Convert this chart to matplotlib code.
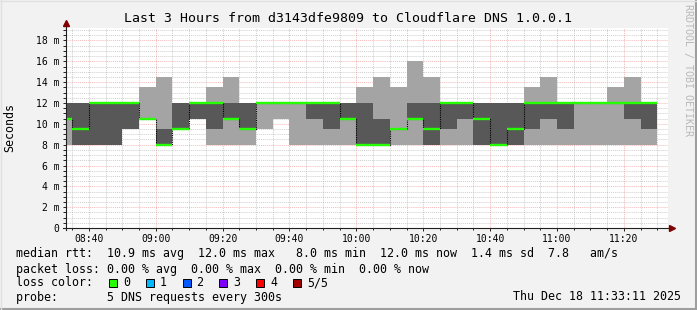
import numpy as np
import pandas as pd
import matplotlib
matplotlib.use("Agg")
import matplotlib.pyplot as plt
import matplotlib.dates as mdates
from matplotlib.ticker import MultipleLocator, FuncFormatter
from matplotlib.patches import Rectangle

plt.rcParams["font.family"] = ["DejaVu Sans Mono"]

W, H = 697, 310

# 5 pings per 5 minute step, sorted low -> high, in ms
ping1 = [8, 8, 8, 8, 9.5, 10.5, 8, 9.5, 10.5, 8, 8, 8, 9.5, 10.5, 8, 8, 8, 8,
         8, 8, 8, 8, 8, 8, 8, 8, 8, 8, 8, 8, 8, 8, 8, 8, 8, 8]
ping2 = [10.5, 8, 8, 8, 9.5, 10.5, 8, 9.5, 10.5, 9.5, 10.5, 9.5, 12, 12, 12, 10.5, 9.5, 10.5,
         8, 8, 9.5, 10.5, 8, 9.5, 10.5, 8, 8, 8, 9.5, 10.5, 9.5, 12, 12, 12, 10.5, 9.5]
median = [10.5, 9.5, 12, 12, 12, 10.5, 8, 9.5, 12, 12, 10.5, 9.5, 12, 12, 12, 12, 12, 10.5,
          8, 8, 9.5, 10.5, 9.5, 12, 12, 10.5, 8, 9.5, 12, 12, 12, 12, 12, 12, 12, 12]
ping4 = [12, 12, 12, 12, 12, 10.5, 9.5, 12, 12, 12, 12, 12, 12, 12, 12, 12, 12, 12,
         12, 10.5, 9.5, 12, 12, 12, 12, 12, 12, 12, 12, 12, 12, 12, 12, 12, 12, 12]
ping5 = [12, 12, 12, 12, 12, 13.5, 14.5, 12, 12, 13.5, 14.5, 12, 12, 12, 12, 12, 12, 12,
         13.5, 14.5, 13.5, 16, 14.5, 12, 12, 12, 12, 12, 13.5, 14.5, 12, 12, 12, 13.5, 14.5, 12]

t_start = pd.Timestamp("2025-12-18 08:33:11")
t_end = pd.Timestamp("2025-12-18 11:33:11")
step_end = pd.date_range("2025-12-18 08:35", periods=len(median), freq="5min")

title = "Last 3 Hours from d3143dfe9809 to Cloudflare DNS 1.0.0.1"
legend_lines = [
    "median rtt:  10.9 ms avg  12.0 ms max   8.0 ms min  12.0 ms now  1.4 ms sd  7.8   am/s",
    "packet loss: 0.00 % avg  0.00 % max  0.00 % min  0.00 % now",
    "loss color:",
    "probe:       5 DNS requests every 300s",
]
loss_labels = ["0", "1", "2", "3", "4", "5/5"]
loss_colors = ["#26ff00", "#00b8ff", "#0059ff", "#7e00ff", "#ff0000", "#a10000"]
stamp = "Thu Dec 18 11:33:11 2025"


def fx(x):
    return x / W


def fy(y):
    return 1 - y / H


fig = plt.figure(figsize=(W / 100, H / 100), dpi=100, facecolor="#f2f2f2")
ax = fig.add_axes([fx(66), fy(228), 602 / W, 200 / H])
ax.set_facecolor("white")

edges = mdates.date2num([t_start.to_pydatetime()] + list(step_end.to_pydatetime()))

# smoke
ax.stairs(ping5, edges, baseline=ping1, fill=True, color="#a4a4a4", lw=0, zorder=1)
ax.stairs(ping4, edges, baseline=ping2, fill=True, color="#585858", lw=0, zorder=1.1)
# median
ax.stairs(median, edges, baseline=None, color="#000000", lw=0.8, ls=(0, (1, 1)), zorder=2)
ax.hlines(median, edges[:-1], edges[1:], color="#26ff00", lw=1.7, zorder=3)

ax.set_xlim(mdates.date2num(t_start.to_pydatetime()), mdates.date2num(t_end.to_pydatetime()))
ax.set_ylim(0, 19.2)

ax.xaxis.set_major_locator(mdates.MinuteLocator(byminute=[0, 20, 40]))
ax.xaxis.set_minor_locator(mdates.MinuteLocator(byminute=range(0, 60, 5)))
ax.xaxis.set_major_formatter(mdates.DateFormatter("%H:%M"))
ax.yaxis.set_major_locator(MultipleLocator(2))
ax.yaxis.set_minor_locator(MultipleLocator(0.5))
ax.yaxis.set_major_formatter(FuncFormatter(lambda v, p: "0" if v == 0 else "%d m" % v))

ax.set_axisbelow(True)
ax.grid(which="major", color="#f08080", lw=0.7, ls=(0, (1, 1)), alpha=0.55)
ax.grid(which="minor", color="#a0a0a0", lw=0.7, ls=(0, (1, 1)), alpha=0.5)
ax.tick_params(which="both", length=2, width=0.7, color="#212121", labelsize=7, pad=2.5)
ax.tick_params(axis="x", which="minor", length=1.5)
for s in ax.spines.values():
    s.set_visible(False)

# axis lines with arrows
ax.plot([0, 0], [-0.01, 1.01], transform=ax.transAxes, color="#212121", lw=0.8, clip_on=False, zorder=5)
ax.plot([-0.005, 1.002], [0, 0], transform=ax.transAxes, color="#212121", lw=0.8, clip_on=False, zorder=5)
ax.plot([0], [1.025], transform=ax.transAxes, marker="^", ms=4, color="#800000", clip_on=False, zorder=6)
ax.plot([1.007], [0], transform=ax.transAxes, marker=">", ms=4, color="#800000", clip_on=False, zorder=6)

fig.text(fx(348), fy(19), title, ha="center", va="center", fontsize=9.5)
fig.text(fx(10), fy(128), "Seconds", rotation=90, ha="center", va="center", fontsize=8.4)
fig.text(fx(688), fy(4), "RRDTOOL / TOBI OETIKER", rotation=270, ha="center", va="top",
         fontsize=7.2, color="#b8b8b8")

for line, y in zip(legend_lines, [254, 269, 283, 297]):
    fig.text(fx(16), fy(y), line, ha="left", va="center", fontsize=8.4)

for i, (lab, col) in enumerate(zip(loss_labels, loss_colors)):
    x0 = 109 + i * 36.8
    fig.add_artist(Rectangle((fx(x0), fy(287)), 8 / W, 8 / H, transform=fig.transFigure,
                             facecolor=col, edgecolor="black", lw=0.7))
    fig.text(fx(x0 + 14), fy(283), lab, ha="left", va="center", fontsize=8.4)

fig.text(fx(681), fy(297), stamp, ha="right", va="center", fontsize=8.4)

# frame shading
fig.add_artist(plt.Line2D([0, 1], [fy(309), fy(309)], transform=fig.transFigure, color="#9e9e9e", lw=1.5))
fig.add_artist(plt.Line2D([fx(696), fx(696)], [0, 1], transform=fig.transFigure, color="#9e9e9e", lw=1.5))
fig.add_artist(plt.Line2D([0, 1], [fy(0.5), fy(0.5)], transform=fig.transFigure, color="#e0e0e0", lw=1))
fig.add_artist(plt.Line2D([fx(0.5), fx(0.5)], [0, 1], transform=fig.transFigure, color="#e0e0e0", lw=1))

fig.savefig("out.png", dpi=100, facecolor=fig.get_facecolor())
